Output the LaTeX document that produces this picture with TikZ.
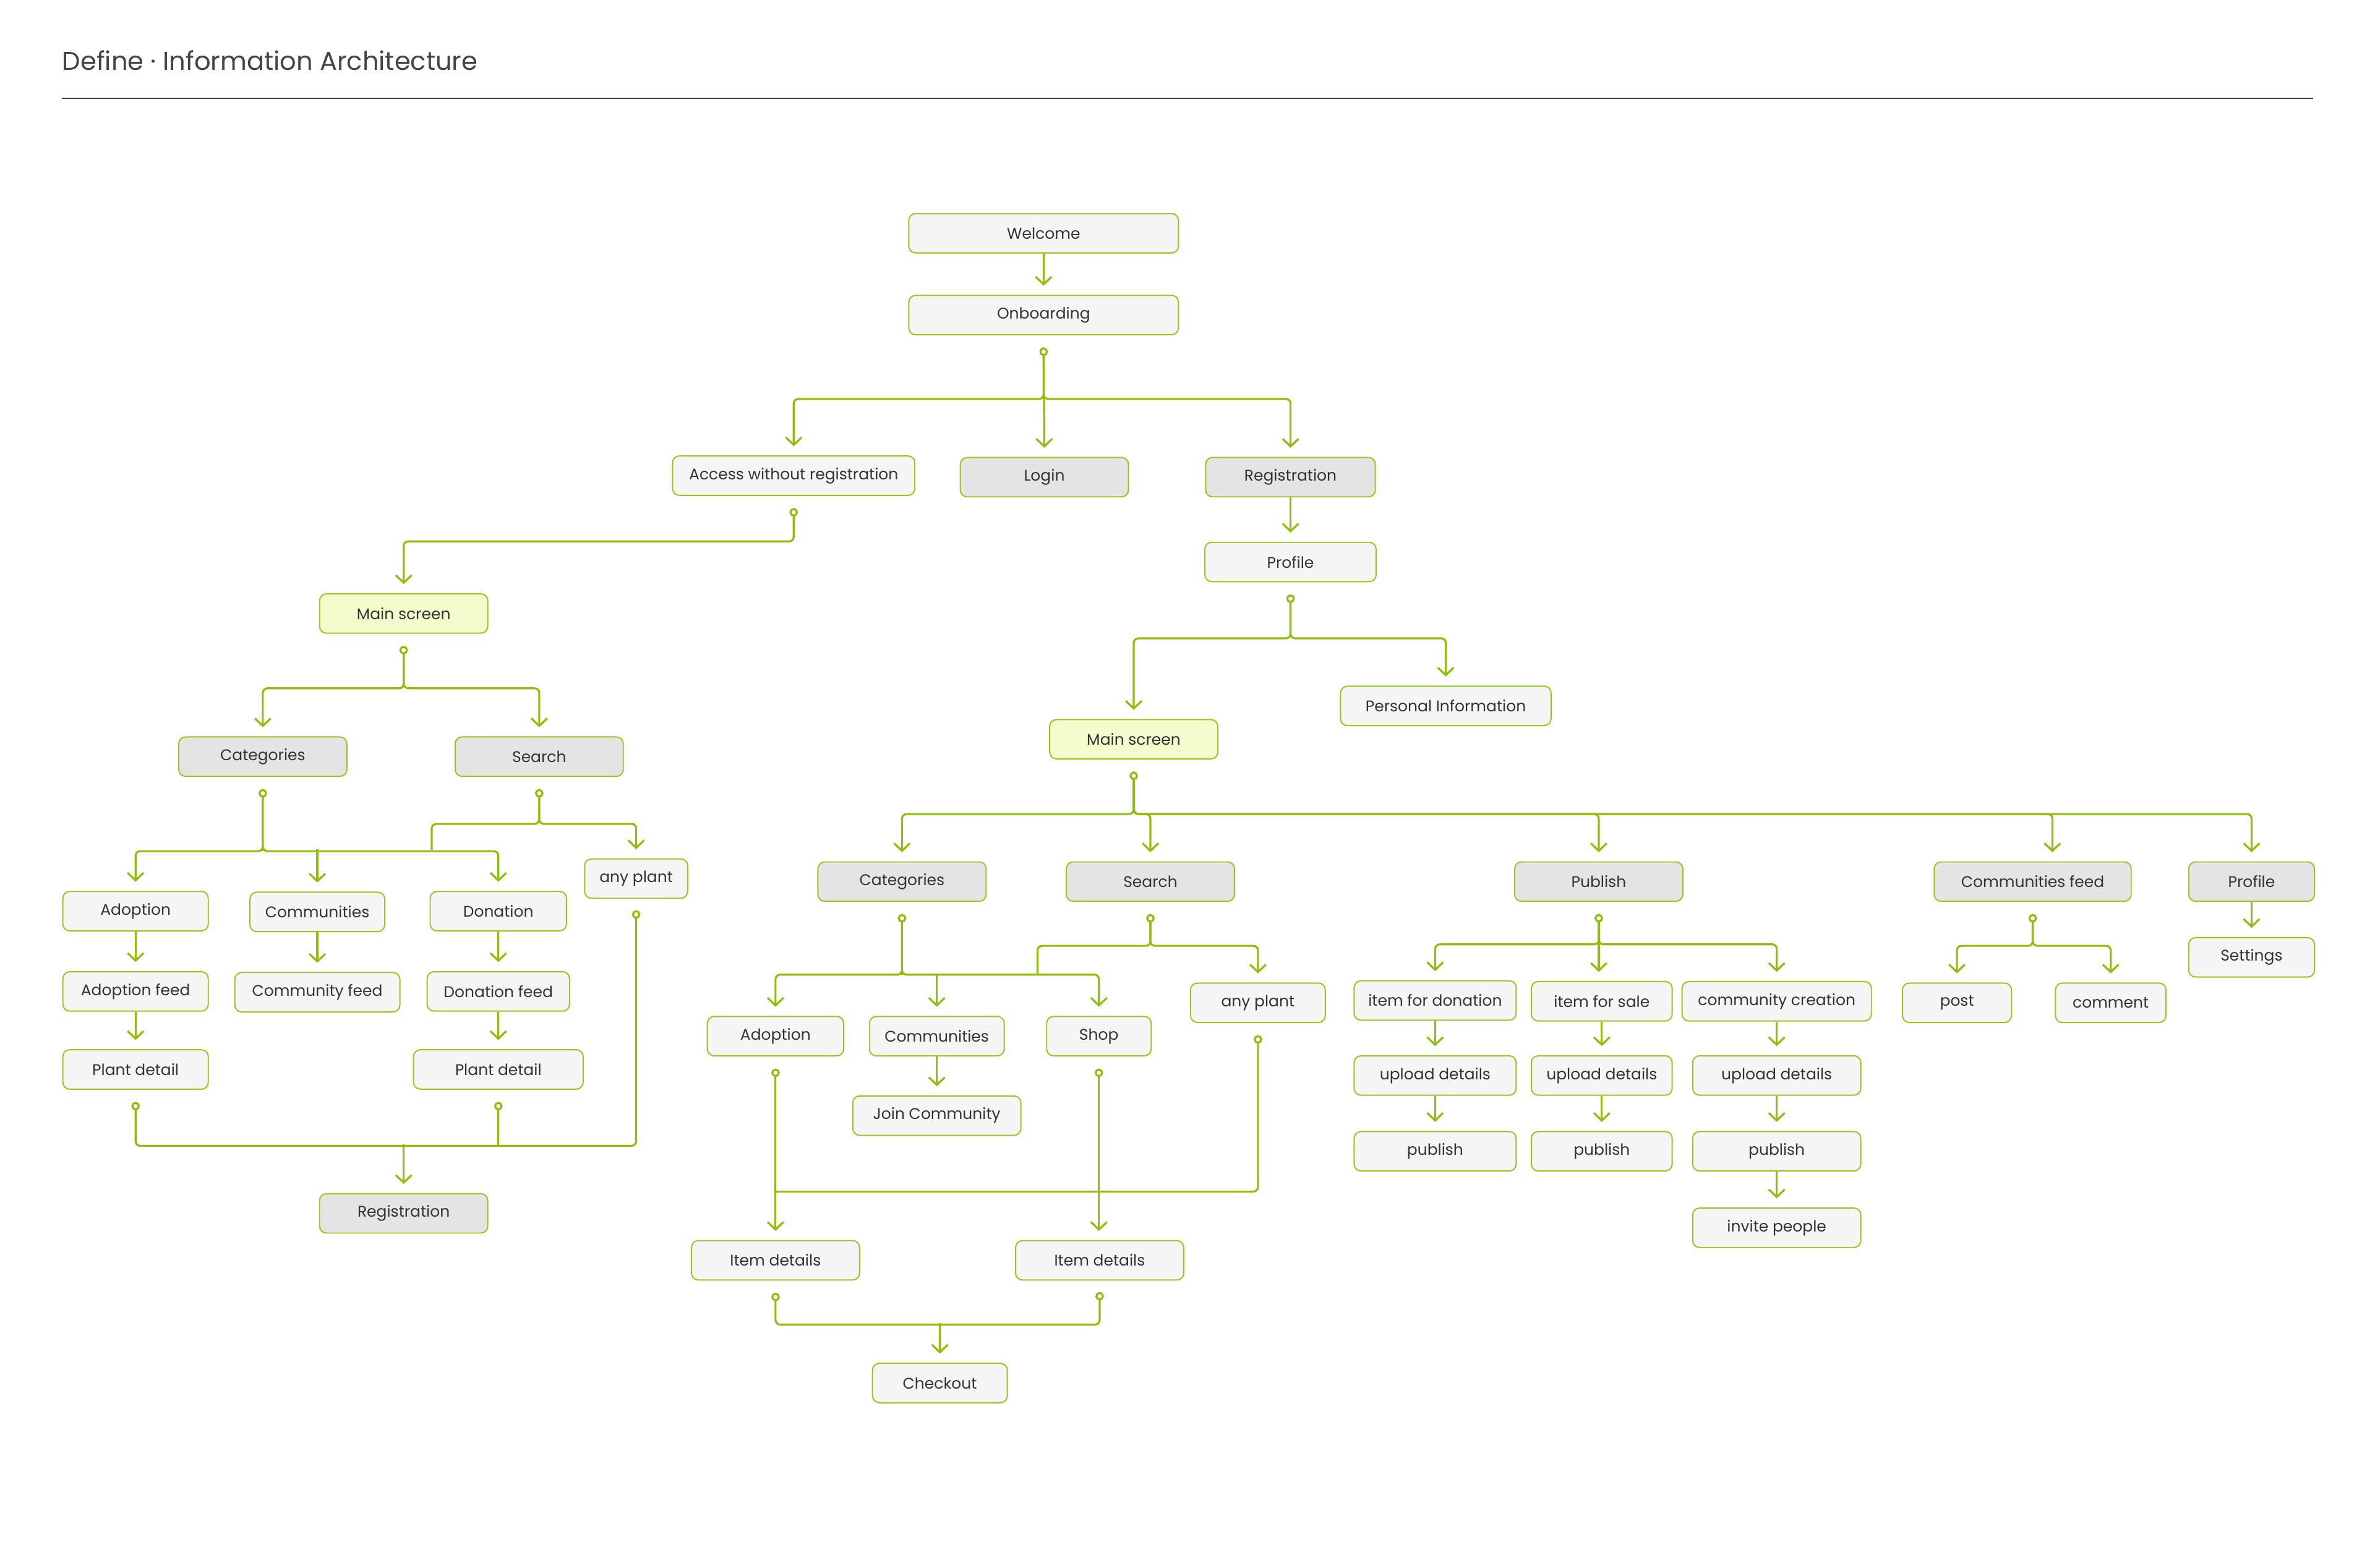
\documentclass[tikz,border=0pt]{standalone}
\usepackage{fontspec}
\setmainfont{Poppins}
\usetikzlibrary{arrows.meta,calc}
\definecolor{lg}{HTML}{8DBF0A}
\definecolor{bord}{HTML}{97C71E}
\definecolor{lightf}{HTML}{F5F5F5}
\definecolor{grayf}{HTML}{E4E4E4}
\definecolor{yelf}{HTML}{F4FCCB}
\definecolor{txt}{HTML}{333333}
\definecolor{ttl}{HTML}{444444}
\begin{document}
\begin{tikzpicture}[x=1pt,y=-1pt,
  box/.style={draw=bord, line width=0.8pt, rounded corners=4.5pt, minimum height=26pt, inner sep=0pt,
    font=\fontsize{10.2}{12}\selectfont, text=txt, fill=lightf},
  gbox/.style={box, fill=grayf},
  ybox/.style={box, fill=yelf},
  conn/.style={draw=lg, line width=1.3pt, rounded corners=3pt, -{Straight Barb[length=5pt,width=10.5pt]}, shorten >=6pt},
  dconn/.style={conn, {Circle[length=5.6pt,width=5.6pt,fill=white]}-{Straight Barb[length=5pt,width=10.5pt]}},
  plain/.style={draw=lg, line width=1.3pt, rounded corners=3pt},
  dplain/.style={plain, {Circle[length=5.6pt,width=5.6pt,fill=white]}-},
  ddplain/.style={plain, {Circle[length=5.6pt,width=5.6pt,fill=white]}-{Circle[length=5.6pt,width=5.6pt,fill=white]}},
]
\useasboundingbox (0,0) rectangle (1568,1035);
\fill[white] (0,0) rectangle (1568,1035);
% title
\node[anchor=west, inner sep=0pt, text=ttl, font=\fontsize{17}{19}\selectfont] (title) at (41,40) {Define · Information Architecture};
\coordinate (ruleL) at (41,65);
\coordinate (ruleR) at (1527,65);
\draw[color=ttl, line width=0.8pt] (ruleL) -- (ruleR);

% top
\node[box, minimum width=178pt] (welcome) at (689,154) {Welcome};
\node[box, minimum width=178pt] (onb) at (689,208) {Onboarding};
\node[box, minimum width=160pt] (access) at (524,314) {Access without registration};
\node[gbox, minimum width=111pt] (login) at (689.5,315) {Login};
\node[gbox, minimum width=112pt] (reg) at (852,315) {Registration};
\node[box, minimum width=113pt] (prof) at (852,371) {Profile};

% left branch
\node[ybox, minimum width=111pt] (ms1) at (266.5,405) {Main screen};
\node[gbox, minimum width=111pt] (cat1) at (173.5,499.5) {Categories};
\node[gbox, minimum width=111pt] (srch1) at (356,499.5) {Search};
\node[box, minimum width=68pt] (ap1) at (420,580) {any plant};
\node[box, minimum width=96pt] (ad1) at (89.5,601.5) {Adoption};
\node[box, minimum width=89pt] (com1) at (209.5,602) {Communities};
\node[box, minimum width=90pt] (don1) at (329,601.5) {Donation};
\node[box, minimum width=96pt] (adf) at (89.5,654.5) {Adoption feed};
\node[box, minimum width=109pt] (cof) at (209.5,655) {Community feed};
\node[box, minimum width=94pt] (dof) at (329,654.5) {Donation feed};
\node[box, minimum width=96pt] (pd1) at (89.5,706) {Plant detail};
\node[box, minimum width=112pt] (pd2) at (329,706) {Plant detail};
\node[gbox, minimum width=111pt] (reg1) at (266.5,801) {Registration};

% right branch
\node[box, minimum width=139pt] (pinfo) at (954.5,466) {Personal Information};
\node[ybox, minimum width=111pt] (ms2) at (748.5,488) {Main screen};
\node[gbox, minimum width=111pt] (cat2) at (595.5,582) {Categories};
\node[gbox, minimum width=111pt] (srch2) at (759.5,582) {Search};
\node[gbox, minimum width=111pt] (pub) at (1055.5,582) {Publish};
\node[gbox, minimum width=130pt] (cfeed) at (1342,582) {Communities feed};
\node[gbox, minimum width=83pt] (prof2) at (1486.5,582) {Profile};
\node[box, minimum width=83pt] (sett) at (1486.5,632) {Settings};

\node[box, minimum width=89pt] (ap2) at (830.5,662) {any plant};
\node[box, minimum width=90pt] (ad2) at (512,684) {Adoption};
\node[box, minimum width=89pt] (com2) at (618.5,684) {Communities};
\node[box, minimum width=69pt] (shop) at (725.5,684) {Shop};
\node[box, minimum width=111pt] (join) at (618.5,736.5) {Join Community};
\node[box, minimum width=111pt] (id1) at (512,832) {Item details};
\node[box, minimum width=111pt] (id2) at (726,832) {Item details};
\node[box, minimum width=89pt] (chk) at (620.5,913) {Checkout};

\node[box, minimum width=107pt] (ifd) at (947.5,660.5) {item for donation};
\node[box, minimum width=93pt] (ifs) at (1057.5,661) {item for sale};
\node[box, minimum width=125pt] (cc) at (1173,661) {community creation};
\node[box, minimum width=107pt] (ud1) at (947.5,710) {upload details};
\node[box, minimum width=93pt] (ud2) at (1057.5,710) {upload details};
\node[box, minimum width=111pt] (ud3) at (1173,710) {upload details};
\node[box, minimum width=107pt] (pb1) at (947.5,760) {publish};
\node[box, minimum width=93pt] (pb2) at (1057.5,760) {publish};
\node[box, minimum width=111pt] (pb3) at (1173,760) {publish};
\node[box, minimum width=111pt] (inv) at (1173,810.5) {invite people};
\node[box, minimum width=72pt] (post) at (1292,662) {post};
\node[box, minimum width=73pt] (comm) at (1393.5,662) {comment};

% ---------- connectors ----------
\draw[conn] (welcome.south) -- (onb.north);
\coordinate (onbd) at ($(onb.south)+(0,8)$);
\draw[conn] (onbd) -- ++(0,34) -| (access.north);
\draw[conn] (onbd) -- ++(0,34) -| (reg.north);
\draw[dconn] (onbd) -- (login.north);
\draw[conn] (reg.south) -- (prof.north);

\draw[dconn] ($(access.south)+(0,8)$) -- ++(0,22) -| (ms1.north);

\coordinate (ms1d) at ($(ms1.south)+(0,8)$);
\draw[conn] (ms1d) -- ++(0,28) -| (srch1.north);
\draw[dconn] (ms1d) -- ++(0,28) -| (cat1.north);

\coordinate (cat1d) at ($(cat1.south)+(0,8)$);
\draw[conn] (cat1d) -- ++(0,41) -| (ad1.north);
\draw[conn] (cat1d) -- ++(0,41) -| (don1.north);
\draw[conn] ($(com1.north)+(0,-28)$) -- (com1.north);
\draw[dplain] (cat1d) -- ++(0,41);

\coordinate (s1d) at ($(srch1.south)+(0,8)$);
\coordinate (lj) at (285,561);
\draw[plain] (s1d) -- ++(0,23) -| (lj);
\draw[dconn] (s1d) -- ++(0,23) -| (ap1.north);

\draw[conn] (ad1.south) -- (adf.north);
\draw[conn] (adf.south) -- (pd1.north);
\draw[conn] (com1.south) -- (cof.north);
\draw[conn] (don1.south) -- (dof.north);
\draw[conn] (dof.south) -- (pd2.north);

\draw[ddplain] ($(pd1.south)+(0,8)$) -- ++(0,29) -| ($(ap1.south)+(0,7.5)$);
\draw[dplain] ($(pd2.south)+(0,8)$) -- ++(0,29);
\draw[conn] ($(reg1.north)+(0,-32)$) -- (reg1.north);

\coordinate (profd) at ($(prof.south)+(0,8)$);
\draw[conn] (profd) -- ++(0,29) -| (pinfo.north);
\draw[dconn] (profd) -- ++(0,29) -| (ms2.north);

\coordinate (ms2d) at ($(ms2.south)+(0,8)$);
\draw[conn] (ms2d) -- ++(0,28) -| (cat2.north);
\draw[conn] (ms2d) -- ++(0,28) -| (pub.north);
\draw[conn] (ms2d) -- ++(0,28) -| ($(cfeed.north)+(13,0)$);
\draw[conn] (ms2d) -- ++(0,28) -| (prof2.north);
\draw[dconn] (ms2d) -- ++(0,28) -| (srch2.north);

\coordinate (cat2d) at ($(cat2.south)+(0,8)$);
\draw[conn] (cat2d) -- ++(0,40) -| (ad2.north);
\draw[conn] (cat2d) -- ++(0,40) -| (shop.north);
\draw[conn] ($(com2.north)+(0,-28)$) -- (com2.north);
\draw[dplain] (cat2d) -- ++(0,40);

\coordinate (s2d) at ($(srch2.south)+(0,8)$);
\coordinate (rj) at (685,643);
\draw[plain] (s2d) -- ++(0,21) -| (rj);
\draw[dconn] (s2d) -- ++(0,21) -| (ap2.north);

\draw[conn] (com2.south) -- (join.north);
\draw[dconn] ($(ad2.south)+(0,8)$) -- (id1.north);
\draw[dplain] ($(ap2.south)+(0,8)$) |- ($(id1.north)+(0,-32)$);
\draw[dconn] ($(shop.south)+(0,8)$) -- (shop.south |- id2.north);

\draw[ddplain] ($(id1.south)+(0,8)$) -- ++(0,21) -| ($(id2.south)+(0,7.5)$);
\draw[conn] ($(chk.north)+(0,-26)$) -- (chk.north);

\coordinate (pubd) at ($(pub.south)+(0,8)$);
\draw[conn] (pubd) -- ++(0,20) -| (ifd.north);
\draw[conn] (pubd) -- ++(0,20) -| (cc.north);
\draw[dconn] (pubd) -- (pubd |- ifs.north);
\draw[conn] (ifd.south) -- (ud1.north);
\draw[conn] (ud1.south) -- (pb1.north);
\draw[conn] (ifs.south) -- (ud2.north);
\draw[conn] (ud2.south) -- (pb2.north);
\draw[conn] (cc.south) -- (ud3.north);
\draw[conn] (ud3.south) -- (pb3.north);
\draw[conn] (pb3.south) -- (inv.north);

\coordinate (cfd) at ($(cfeed.south)+(0,8)$);
\draw[conn] (cfd) -- ++(0,21) -| (comm.north);
\draw[dconn] (cfd) -- ++(0,21) -| (post.north);

\draw[conn] (prof2.south) -- (sett.north);
\end{tikzpicture}
\end{document}
